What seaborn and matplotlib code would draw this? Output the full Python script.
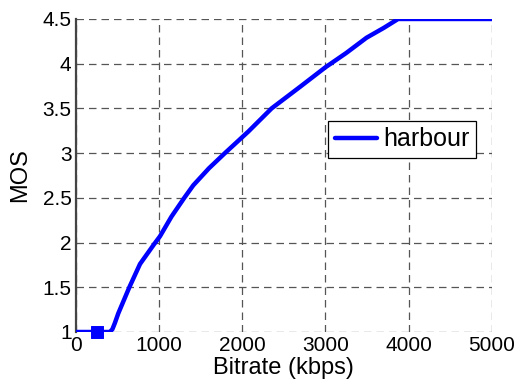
import matplotlib
matplotlib.use("Agg")
import matplotlib.pyplot as plt
import seaborn as sns
import pandas as pd

bitrate = [0, 250, 410, 440, 470, 512, 644, 772, 940, 1012, 1150, 1304, 1412,
           1600, 1792, 2072, 2353, 2693, 3000, 3250, 3493, 3700, 3873, 5000]
mos = [1.0, 1.0, 1.0, 1.03, 1.1, 1.21, 1.5, 1.76, 1.98, 2.07, 2.29, 2.5, 2.64,
       2.83, 3.0, 3.24, 3.5, 3.74, 3.96, 4.12, 4.29, 4.4, 4.5, 4.5]
marker_x = [250]
marker_y = [1.0]
series_name = "harbour"
xticks = [0, 1000, 2000, 3000, 4000, 5000]
yticks = [1, 1.5, 2, 2.5, 3, 3.5, 4, 4.5]
ytick_labels = ["1", "1.5", "2", "2.5", "3", "3.5", "4", "4.5"]

sns.set_style("white")
plt.rcParams["font.family"] = ["Liberation Sans", "DejaVu Sans"]
plt.rcParams["text.color"] = "black"

df = pd.DataFrame({"Bitrate": bitrate, "MOS": mos, "series": series_name})
mk = pd.DataFrame({"Bitrate": marker_x, "MOS": marker_y})

fig = plt.figure(figsize=(5.17, 3.85), dpi=100)
ax = fig.add_axes([0.1465, 0.1377, 0.805, 0.8130])

sns.lineplot(data=df, x="Bitrate", y="MOS", hue="series", palette=["#0000ff"],
             linewidth=3.2, ax=ax, legend=True, zorder=3)
sns.scatterplot(data=mk, x="Bitrate", y="MOS", color="#0000ff", marker="s",
                s=75, edgecolor="#0000ff", ax=ax, legend=False, zorder=4,
                clip_on=False)

ax.set_xlim(0, 5000)
ax.set_ylim(1, 4.5)
ax.set_xticks(xticks)
ax.set_yticks(yticks)
ax.set_yticklabels(ytick_labels)
ax.tick_params(axis="both", labelsize=15, direction="in", length=3,
               colors="#333333", labelcolor="black")
ax.tick_params(axis="x", pad=3)
ax.tick_params(axis="y", pad=3)
ax.set_xlabel("Bitrate (kbps)", fontsize=17, labelpad=1, color="black")
ax.set_ylabel("MOS", fontsize=17, labelpad=8, color="black")

ax.grid(True, linestyle=(0, (6, 4)), color="#555555", linewidth=0.9)
for s in ["top", "right", "bottom"]:
    ax.spines[s].set_visible(False)
ax.spines["left"].set_color("#444444")
ax.spines["left"].set_linewidth(1.6)

leg = ax.legend(loc="upper right", bbox_to_anchor=(0.962, 0.674), fontsize=18,
                frameon=True, fancybox=False, framealpha=1, edgecolor="black",
                handlelength=1.7, handletextpad=0.25, borderpad=0.25,
                borderaxespad=0)
leg.get_frame().set_linewidth(0.9)
for t in leg.get_texts():
    t.set_color("black")
for h in leg.get_lines():
    h.set_linewidth(3.2)

fig.savefig("out.png", dpi=100)
